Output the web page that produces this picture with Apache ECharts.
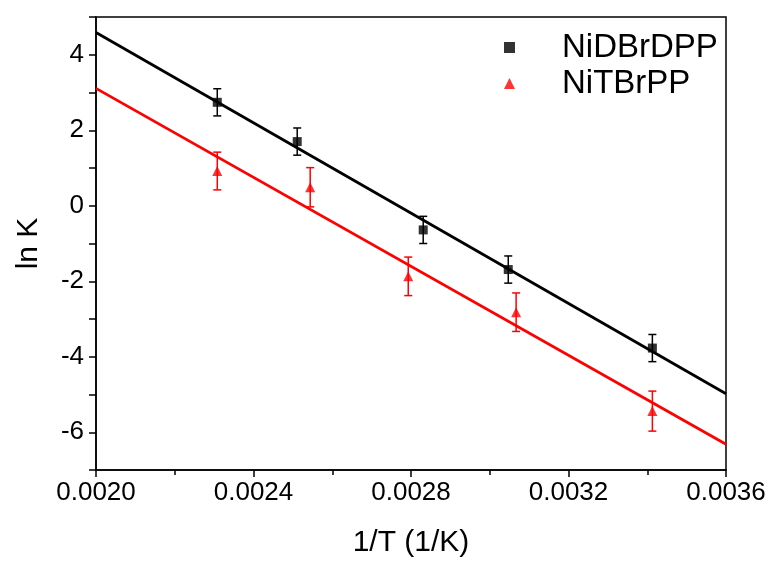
<!DOCTYPE html>
<html>
<head>
<meta charset="utf-8">
<script src="https://cdn.jsdelivr.net/npm/echarts@6/dist/echarts.min.js"></script>
<style>
  html, body { margin: 0; padding: 0; background: #fff; }
  #main { width: 773px; height: 563px; }
</style>
</head>
<body>
<div id="main"></div>
<script>
// data
var blackX = [0.002308, 0.002511, 0.002831, 0.003047, 0.003413];
var blackY = [2.74, 1.70, -0.64, -1.69, -3.77];
var blackErr = [0.36, 0.36, 0.36, 0.36, 0.36];

var redX = [0.002308, 0.002544, 0.002793, 0.003067, 0.003413];
var redY = [0.92, 0.49, -1.87, -2.82, -5.44];
var redErr = [0.50, 0.52, 0.51, 0.51, 0.53];

// linear fits, evaluated at the axis ends
var fitX = [0.0020, 0.0036];
var blackFit = [4.59, -4.98];
var redFit = [3.11, -6.32];

var names = ['NiDBrDPP', 'NiTBrPP'];

function pairs(xs, ys) {
    return xs.map(function (x, i) { return [x, ys[i]]; });
}
function errData(xs, ys, es) {
    return xs.map(function (x, i) { return [x, ys[i] - es[i], ys[i] + es[i]]; });
}
function errorBar(color) {
    return function (params, api) {
        var lo = api.coord([api.value(0), api.value(1)]);
        var hi = api.coord([api.value(0), api.value(2)]);
        var w = 4;
        var style = { stroke: color, lineWidth: 1.5 };
        return {
            type: 'group',
            children: [
                { type: 'line', shape: { x1: lo[0], y1: lo[1], x2: hi[0], y2: hi[1] }, style: style },
                { type: 'line', shape: { x1: lo[0] - w, y1: lo[1], x2: lo[0] + w, y2: lo[1] }, style: style },
                { type: 'line', shape: { x1: hi[0] - w, y1: hi[1], x2: hi[0] + w, y2: hi[1] }, style: style }
            ]
        };
    };
}

var myChart = echarts.init(document.getElementById('main'));

var font = 'Liberation Sans, Arial, sans-serif';

option = {
    animation: false,
    backgroundColor: '#fff',
    grid: {
        left: 96, right: 47, top: 17, bottom: 92,
        show: true, borderColor: '#000', borderWidth: 1.5
    },
    legend: {
        data: [
            { name: names[0], icon: 'rect' },
            { name: names[1], icon: 'triangle' }
        ],
        orient: 'vertical',
        left: 499,
        top: 26,
        itemWidth: 11,
        itemHeight: 11,
        itemGap: 3,
        textStyle: { fontFamily: font, fontSize: 33, color: '#000', padding: [0, 0, 0, 42] }
    },
    xAxis: {
        type: 'value',
        min: 0.002,
        max: 0.0036,
        interval: 0.0004,
        name: '1/T (1/K)',
        nameLocation: 'middle',
        nameGap: 58,
        nameTextStyle: { fontFamily: font, fontSize: 30, color: '#000' },
        axisLine: { onZero: false, lineStyle: { color: '#000', width: 1.5 } },
        axisTick: { length: 7, lineStyle: { color: '#000', width: 1.5 } },
        minorTick: { show: true, splitNumber: 2, length: 5, lineStyle: { color: '#000', width: 1.5 } },
        splitLine: { show: false },
        axisLabel: {
            fontFamily: font, fontSize: 26, color: '#000', margin: 10,
            formatter: function (v) { return v.toFixed(4); }
        }
    },
    yAxis: {
        type: 'value',
        min: -7,
        max: 5,
        interval: 1,
        name: 'ln K',
        nameLocation: 'middle',
        nameGap: 52,
        nameTextStyle: { fontFamily: font, fontSize: 30, color: '#000' },
        axisLine: { onZero: false, lineStyle: { color: '#000', width: 1.5 } },
        axisTick: { length: 7, lineStyle: { color: '#000', width: 1.5 } },
        splitLine: { show: false },
        axisLabel: {
            fontFamily: font, fontSize: 26, color: '#000', margin: 12,
            formatter: function (v) { return (Math.round(v) % 2 === 0) ? String(v) : ''; }
        }
    },
    series: [
        {
            name: 'fitBlack', type: 'line', data: pairs(fitX, blackFit),
            symbol: 'none', lineStyle: { color: '#000', width: 2.8 }, z: 1
        },
        {
            name: 'fitRed', type: 'line', data: pairs(fitX, redFit),
            symbol: 'none', lineStyle: { color: '#ff0000', width: 2.8 }, z: 1
        },
        {
            name: 'errBlack', type: 'custom', data: errData(blackX, blackY, blackErr),
            renderItem: errorBar('#000'), z: 2
        },
        {
            name: 'errRed', type: 'custom', data: errData(redX, redY, redErr),
            renderItem: errorBar('#ff0000'), z: 2
        },
        {
            name: names[0], type: 'scatter', data: pairs(blackX, blackY),
            symbol: 'rect', symbolSize: 9, itemStyle: { color: '#000' }, z: 3
        },
        {
            name: names[1], type: 'scatter', data: pairs(redX, redY),
            symbol: 'triangle', symbolSize: 10, itemStyle: { color: '#ff0000' }, z: 3
        }
    ]
};

myChart.setOption(option);
</script>
</body>
</html>
